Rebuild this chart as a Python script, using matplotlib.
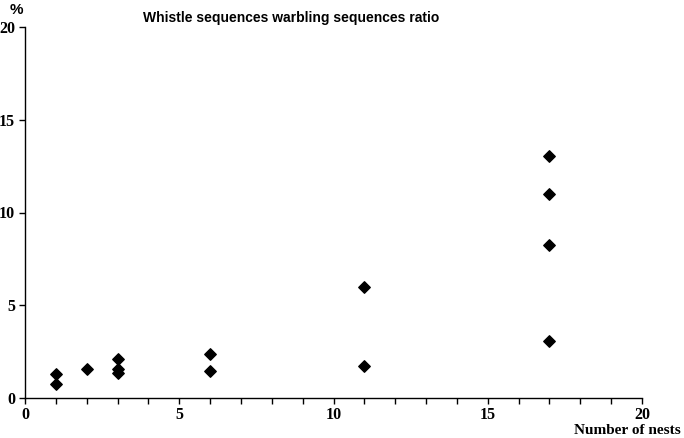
import matplotlib
matplotlib.use("Agg")
import matplotlib.pyplot as plt
from matplotlib.ticker import MultipleLocator

nests = [1, 1, 2, 3, 3, 3, 6, 6, 11, 11, 17, 17, 17, 17]
ratio = [1.32, 0.79, 1.59, 2.10, 1.59, 1.38, 2.40, 1.47, 6.01, 1.75, 13.02, 11.01, 8.27, 3.08]
xticks = [0, 5, 10, 15, 20]
yticks = [0, 5, 10, 15, 20]

fig = plt.figure(figsize=(6.84, 4.38), dpi=100)
ax = fig.add_axes([25/684, 1-398.3/438, (642-25)/684, (398.3-26.7)/438])
ax.scatter(nests, ratio, marker='D', s=34, color='black', zorder=3)
ax.set_xlim(0, 20)
ax.set_ylim(0, 20)
for s in ['top', 'right']:
    ax.spines[s].set_visible(False)
ax.spines['left'].set_linewidth(1.0)
ax.spines['bottom'].set_linewidth(1.0)
ax.set_xticks(xticks)
ax.set_yticks(yticks)
ax.xaxis.set_minor_locator(MultipleLocator(1))
ax.tick_params(axis='x', which='both', direction='out', length=4, width=1, pad=2)
ax.tick_params(axis='y', which='major', direction='out', length=4, width=1, pad=3)
for lab in ax.get_xticklabels() + ax.get_yticklabels():
    lab.set_family('Liberation Serif')
    lab.set_fontweight('bold')
    lab.set_fontsize(11.5)

fig.text(291/684, 1-18/438, 'Whistle sequences warbling sequences ratio', ha='center', va='center',
         fontsize=10, fontweight='bold', family='Liberation Sans')
fig.text(16/684, 1-10/438, '%', ha='center', va='center', fontsize=11, fontweight='bold', family='Liberation Sans')
fig.text(681/684, 1-437/438, 'Number of nests', ha='right', va='bottom', fontsize=11,
         fontweight='bold', family='Liberation Serif')

fig.savefig('out.png', dpi=100)
